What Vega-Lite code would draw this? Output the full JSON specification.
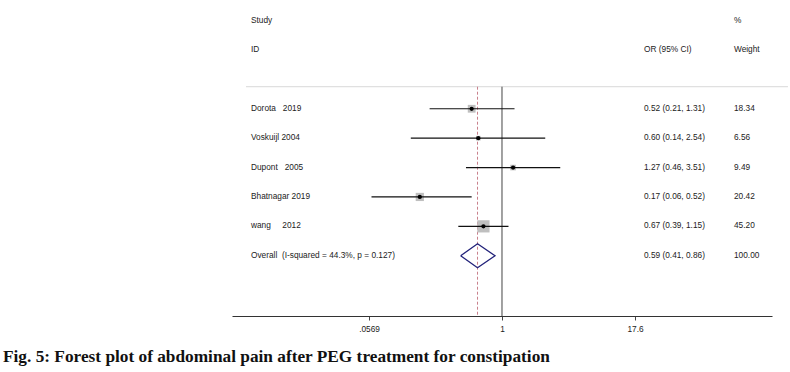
{
  "$schema": "https://vega.github.io/schema/vega-lite/v6.json",
  "width": 540,
  "height": 316,
  "autosize": "none",
  "padding": {"left": 232, "top": 0, "right": 18, "bottom": 56},
  "background": "white",
  "config": {"view": {"stroke": null}, "font": "Liberation Sans"},
  "title": {
    "text": "Fig. 5: Forest plot of abdominal pain after PEG treatment for constipation",
    "orient": "bottom",
    "anchor": "start",
    "font": "Liberation Serif",
    "fontWeight": "bold",
    "fontSize": 17.3,
    "color": "#111111",
    "dx": -229,
    "offset": 16
  },
  "datasets": {
    "studies": [
      {"study": "Dorota\u00a0\u00a0\u00a02019", "or": 0.52, "lo": 0.21, "hi": 1.31, "w": 18.34, "row": 1, "ci": "0.52 (0.21, 1.31)", "wt": "18.34"},
      {"study": "Voskuijl 2004", "or": 0.60, "lo": 0.14, "hi": 2.54, "w": 6.56, "row": 2, "ci": "0.60 (0.14, 2.54)", "wt": "6.56"},
      {"study": "Dupont\u00a0\u00a0\u00a02005", "or": 1.27, "lo": 0.46, "hi": 3.51, "w": 9.49, "row": 3, "ci": "1.27 (0.46, 3.51)", "wt": "9.49"},
      {"study": "Bhatnagar 2019", "or": 0.17, "lo": 0.06, "hi": 0.52, "w": 20.42, "row": 4, "ci": "0.17 (0.06, 0.52)", "wt": "20.42"},
      {"study": "wang\u00a0\u00a0\u00a0\u00a0\u00a02012", "or": 0.67, "lo": 0.39, "hi": 1.15, "w": 45.20, "row": 5, "ci": "0.67 (0.39, 1.15)", "wt": "45.20"}
    ],
    "overall": [
      {"study": "Overall\u00a0\u00a0(I-squared = 44.3%, p = 0.127)", "or": 0.59, "lo": 0.41, "hi": 0.86, "w": 100, "row": 6, "ci": "0.59 (0.41, 0.86)", "wt": "100.00"}
    ],
    "diamond": [
      {"x": 0.41, "y": 6, "o": 0},
      {"x": 0.59, "y": 5.59, "o": 1},
      {"x": 0.86, "y": 6, "o": 2},
      {"x": 0.59, "y": 6.41, "o": 3},
      {"x": 0.41, "y": 6, "o": 4}
    ],
    "headers": [
      {"text": "Study", "row": -2, "col": "id"},
      {"text": "ID", "row": -1, "col": "id"},
      {"text": "OR (95% CI)", "row": -1, "col": "or"},
      {"text": "%", "row": -2, "col": "wt"},
      {"text": "Weight", "row": -1, "col": "wt"}
    ]
  },
  "encoding": {
    "x": {
      "type": "quantitative",
      "scale": {"type": "log", "domain": [0.002965, 337.3], "nice": false},
      "axis": {
        "values": [0.0569, 1, 17.6],
        "labelExpr": "datum.value < 0.1 ? '.0569' : (datum.value == 1 ? '1' : '17.6')",
        "title": null,
        "grid": false,
        "domainColor": "#333333",
        "domainWidth": 1.2,
        "tickColor": "#444444",
        "tickSize": 4,
        "labelFontSize": 8.3,
        "labelColor": "#222222",
        "labelFont": "Liberation Sans",
        "labelPadding": 4
      }
    },
    "y": {
      "type": "quantitative",
      "scale": {"domain": [-2.7, 8.05], "reverse": true, "nice": false, "zero": false},
      "axis": null
    }
  },
  "layer": [
    {
      "data": {"values": [{"a": 1}]},
      "mark": {"type": "rule", "color": "#d9d9d9", "strokeWidth": 1},
      "encoding": {
        "x": {"datum": 0.004009},
        "x2": {"datum": 476},
        "y": {"datum": 0.25}
      }
    },
    {
      "data": {"values": [{"a": 1}]},
      "mark": {"type": "rule", "color": "#444444", "strokeWidth": 1},
      "encoding": {
        "x": {"datum": 1},
        "y": {"datum": 0.25},
        "y2": {"datum": 8.05}
      }
    },
    {
      "data": {"name": "overall"},
      "mark": {"type": "rule", "color": "#c97f8c", "strokeWidth": 1, "strokeDash": [3, 2]},
      "encoding": {
        "x": {"field": "or", "type": "quantitative"},
        "y": {"datum": 0.25},
        "y2": {"datum": 8.05}
      }
    },
    {
      "data": {"name": "studies"},
      "mark": {"type": "square", "filled": true, "color": "#bfbfbf", "opacity": 1},
      "encoding": {
        "x": {"field": "or", "type": "quantitative"},
        "y": {"field": "row", "type": "quantitative"},
        "size": {"field": "w", "type": "quantitative", "scale": {"domain": [0, 50], "range": [0, 165]}, "legend": null}
      }
    },
    {
      "data": {"name": "studies"},
      "mark": {"type": "rule", "color": "#111111", "strokeWidth": 1.2},
      "encoding": {
        "x": {"field": "lo", "type": "quantitative"},
        "x2": {"field": "hi"},
        "y": {"field": "row", "type": "quantitative"}
      }
    },
    {
      "data": {"name": "studies"},
      "mark": {"type": "circle", "color": "#000000", "size": 18, "opacity": 1},
      "encoding": {
        "x": {"field": "or", "type": "quantitative"},
        "y": {"field": "row", "type": "quantitative"}
      }
    },
    {
      "data": {"name": "diamond"},
      "mark": {"type": "line", "color": "#22227a", "strokeWidth": 1.3},
      "encoding": {
        "x": {"field": "x", "type": "quantitative"},
        "y": {"field": "y", "type": "quantitative"},
        "order": {"field": "o", "type": "quantitative"}
      }
    },
    {
      "data": {"name": "studies"},
      "mark": {"type": "text", "align": "left", "baseline": "middle", "fontSize": 8.3, "color": "#222222"},
      "encoding": {
        "x": {"datum": 0.004467},
        "y": {"field": "row", "type": "quantitative"},
        "text": {"field": "study"}
      }
    },
    {
      "data": {"name": "overall"},
      "mark": {"type": "text", "align": "left", "baseline": "middle", "fontSize": 8.3, "color": "#222222"},
      "encoding": {
        "x": {"datum": 0.004467},
        "y": {"field": "row", "type": "quantitative"},
        "text": {"field": "study"}
      }
    },
    {
      "data": {"name": "studies"},
      "mark": {"type": "text", "align": "left", "baseline": "middle", "fontSize": 8.3, "color": "#222222"},
      "encoding": {
        "x": {"datum": 21.36},
        "y": {"field": "row", "type": "quantitative"},
        "text": {"field": "ci"}
      }
    },
    {
      "data": {"name": "overall"},
      "mark": {"type": "text", "align": "left", "baseline": "middle", "fontSize": 8.3, "color": "#222222"},
      "encoding": {
        "x": {"datum": 21.36},
        "y": {"field": "row", "type": "quantitative"},
        "text": {"field": "ci"}
      }
    },
    {
      "data": {"name": "studies"},
      "mark": {"type": "text", "align": "left", "baseline": "middle", "fontSize": 8.3, "color": "#222222"},
      "encoding": {
        "x": {"datum": 148.6},
        "y": {"field": "row", "type": "quantitative"},
        "text": {"field": "wt"}
      }
    },
    {
      "data": {"name": "overall"},
      "mark": {"type": "text", "align": "left", "baseline": "middle", "fontSize": 8.3, "color": "#222222"},
      "encoding": {
        "x": {"datum": 148.6},
        "y": {"field": "row", "type": "quantitative"},
        "text": {"field": "wt"}
      }
    },
    {
      "data": {"name": "headers"},
      "transform": [{"filter": "datum.col == 'id'"}],
      "mark": {"type": "text", "align": "left", "baseline": "middle", "fontSize": 8.3, "color": "#222222"},
      "encoding": {
        "x": {"datum": 0.004467},
        "y": {"field": "row", "type": "quantitative"},
        "text": {"field": "text"}
      }
    },
    {
      "data": {"name": "headers"},
      "transform": [{"filter": "datum.col == 'or'"}],
      "mark": {"type": "text", "align": "left", "baseline": "middle", "fontSize": 8.3, "color": "#222222"},
      "encoding": {
        "x": {"datum": 21.36},
        "y": {"field": "row", "type": "quantitative"},
        "text": {"field": "text"}
      }
    },
    {
      "data": {"name": "headers"},
      "transform": [{"filter": "datum.col == 'wt'"}],
      "mark": {"type": "text", "align": "left", "baseline": "middle", "fontSize": 8.3, "color": "#222222"},
      "encoding": {
        "x": {"datum": 148.6},
        "y": {"field": "row", "type": "quantitative"},
        "text": {"field": "text"}
      }
    }
  ]
}
